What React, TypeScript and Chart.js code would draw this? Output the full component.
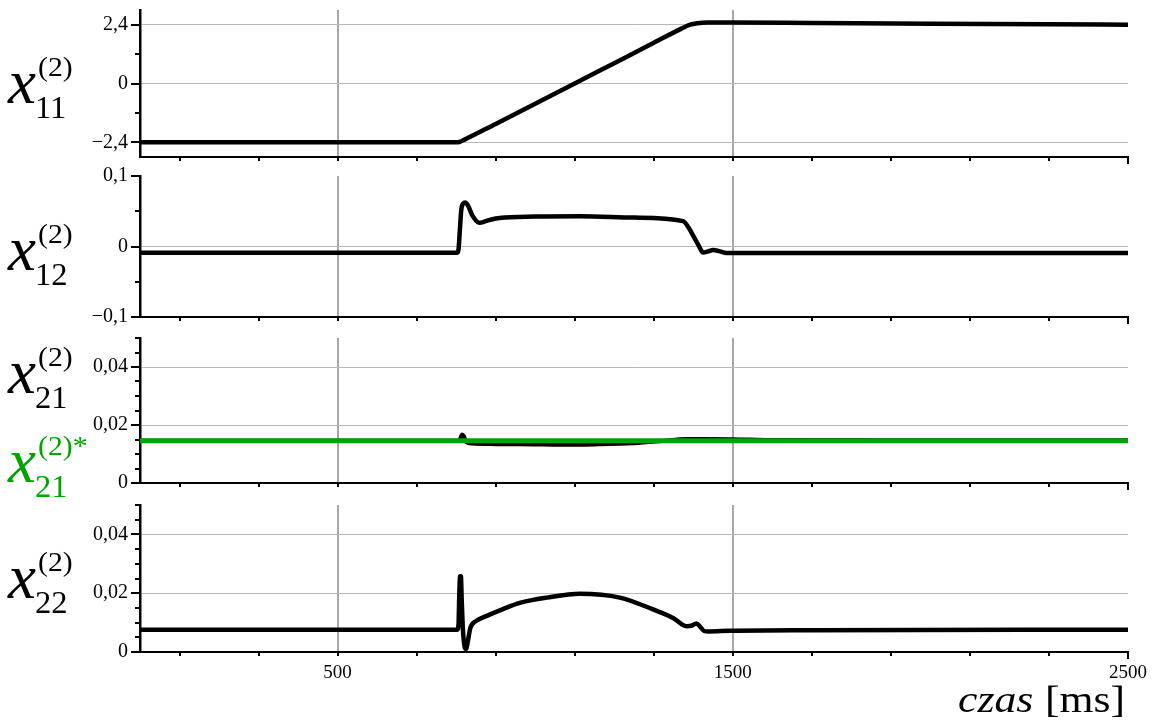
import React, { useEffect, useRef } from 'react';
import { Chart, registerables } from 'chart.js';

Chart.register(...registerables);

const FONT = "'Liberation Serif', 'Times New Roman', Times, serif";
const BLACK = '#000000';
const GREEN = '#00a300';
const GRID_H = '#b8b8b8';
const GRID_V = '#a8a8a8';

// ---- x axis (time, ms) ----
const X_MIN = 0;
const X_MAX = 2500;
const X_TICKS = [100, 300, 500, 700, 900, 1100, 1300, 1500, 1700, 1900, 2100, 2300, 2500];
const X_LABELED = [500, 1500, 2500];
const X_GRID = [500, 1500];

// ---- panel 1: x11 ----
const T11 = [0, 800, 808, 820, 900, 1000, 1100, 1200, 1300, 1370, 1392, 1410, 1435, 1500, 1700, 2000, 2300, 2500];
const V11 = [-2.4, -2.4, -2.39, -2.3, -1.65, -0.83, 0.0, 0.83, 1.66, 2.24, 2.4, 2.46, 2.49, 2.49, 2.47, 2.44, 2.42, 2.4];
const Y11_TICKS = [-2.4, -1.2, 0, 1.2, 2.4];
const Y11_LABELED = [-2.4, 0, 2.4];
const Y11_GRID = [-2.4, 0, 2.4];

// ---- panel 2: x12 ----
const T12 = [0, 803, 806, 809, 813, 818, 823, 830, 842, 859, 875, 889, 910, 1000, 1113, 1250, 1374, 1388, 1400, 1413, 1425, 1437, 1450, 1465, 1484, 2000, 2500];
const V12 = [-0.0088, -0.0088, -0.004, 0.02, 0.052, 0.061, 0.0625, 0.058, 0.043, 0.0336, 0.036, 0.0383, 0.0405, 0.0425, 0.043, 0.041, 0.036, 0.027, 0.015, 0.002, -0.0085, -0.007, -0.005, -0.0065, -0.0092, -0.0092, -0.0092];
const Y12_TICKS = [-0.1, -0.05, 0, 0.05, 0.1];
const Y12_LABELED = [-0.1, 0, 0.1];
const Y12_GRID = [0];

// ---- panel 3: x21 and reference x21* ----
const T21 = [0, 805, 810, 815, 820, 826, 840, 900, 1000, 1050, 1150, 1250, 1320, 1365, 1385, 1420, 1500, 1600, 2000, 2500];
const V21 = [0.0146, 0.0146, 0.0152, 0.0167, 0.016, 0.014, 0.0136, 0.0134, 0.0133, 0.0132, 0.0133, 0.0137, 0.0145, 0.0151, 0.0152, 0.0152, 0.0151, 0.0148, 0.0147, 0.0147];
const T21_REF = [0, 2500];
const V21_REF = [0.0146, 0.0146];
const Y21_TICKS = [0, 0.005, 0.01, 0.015, 0.02, 0.025, 0.03, 0.035, 0.04, 0.045, 0.05];
const Y21_LABELED = [0, 0.02, 0.04];
const Y21_GRID = [0.02, 0.04];

// ---- panel 4: x22 ----
const T22 = [0, 803, 806, 808, 810, 812, 814, 817, 821, 825, 830, 836, 850, 876, 920, 961, 1030, 1113, 1214, 1298, 1350, 1383, 1395, 1408, 1418, 1428, 1440, 1492, 1700, 2500];
const V22 = [0.0076, 0.0076, 0.0095, 0.02, 0.0258, 0.0258, 0.018, 0.008, 0.002, 0.001, 0.004, 0.0082, 0.0105, 0.0122, 0.0147, 0.0167, 0.0185, 0.0198, 0.0185, 0.0145, 0.0115, 0.0088, 0.0089, 0.0097, 0.0085, 0.0071, 0.007, 0.0072, 0.0074, 0.0076];
const Y22_TICKS = [0, 0.005, 0.01, 0.015, 0.02, 0.025, 0.03, 0.035, 0.04, 0.045, 0.05];
const Y22_LABELED = [0, 0.02, 0.04];
const Y22_GRID = [0.02, 0.04];

const PAD_TOP = 12;

type Series = { t: number[]; v: number[]; color: string; width: number };
type MathLabel = { base: number; color: string; sup: string; sub: string };
type Panel = {
  top: number; bottom: number; xAxisH: number;
  yMin: number; yMax: number;
  yTicks: number[]; yLabeled: number[]; yGrid: number[];
  series: Series[]; labels: MathLabel[]; showX: boolean;
};

const PANELS: Panel[] = [
  { top: 10, bottom: 157, xAxisH: 14, yMin: -3, yMax: 3, yTicks: Y11_TICKS, yLabeled: Y11_LABELED, yGrid: Y11_GRID,
    series: [{ t: T11, v: V11, color: BLACK, width: 4.5 }], labels: [{ base: 103, color: BLACK, sup: '(2)', sub: '11' }], showX: false },
  { top: 176, bottom: 317, xAxisH: 14, yMin: -0.1, yMax: 0.1, yTicks: Y12_TICKS, yLabeled: Y12_LABELED, yGrid: Y12_GRID,
    series: [{ t: T12, v: V12, color: BLACK, width: 4.5 }], labels: [{ base: 270, color: BLACK, sup: '(2)', sub: '12' }], showX: false },
  { top: 338, bottom: 483, xAxisH: 22, yMin: 0, yMax: 0.05, yTicks: Y21_TICKS, yLabeled: Y21_LABELED, yGrid: Y21_GRID,
    series: [{ t: T21_REF, v: V21_REF, color: GREEN, width: 5 }, { t: T21, v: V21, color: BLACK, width: 4 }],
    labels: [{ base: 393, color: BLACK, sup: '(2)', sub: '21' }, { base: 482, color: GREEN, sup: '(2)*', sub: '21' }], showX: false },
  { top: 505, bottom: 652, xAxisH: 72, yMin: 0, yMax: 0.05, yTicks: Y22_TICKS, yLabeled: Y22_LABELED, yGrid: Y22_GRID,
    series: [{ t: T22, v: V22, color: BLACK, width: 4.5 }], labels: [{ base: 598, color: BLACK, sup: '(2)', sub: '22' }], showX: true },
];

function fmt(v: number): string {
  const s = String(Math.abs(v)).replace('.', ',');
  return v < 0 ? '\u2212' + s : s;
}

function drawText(ctx: CanvasRenderingContext2D, text: string, x: number, y: number, font: string, color: string, sx = 1) {
  ctx.save();
  ctx.translate(x, y);
  ctx.scale(sx, 1);
  ctx.font = font;
  ctx.fillStyle = color;
  ctx.textAlign = 'left';
  ctx.textBaseline = 'alphabetic';
  ctx.fillText(text, 0, 0);
  ctx.restore();
}

function makePlugin(p: Panel, canvasTop: number) {
  return {
    id: 'decor',
    afterDraw(chart: any) {
      const ctx: CanvasRenderingContext2D = chart.ctx;
      const xs = chart.scales.x;
      const ys = chart.scales.y;
      const ca = chart.chartArea;
      ctx.save();
      ctx.strokeStyle = BLACK;
      ctx.lineWidth = 2;
      ctx.beginPath();
      for (const v of p.yTicks) {
        const y = Math.round(ys.getPixelForValue(v));
        const len = p.yLabeled.includes(v) ? 9 : 5;
        ctx.moveTo(ca.left - len, y);
        ctx.lineTo(ca.left, y);
      }
      for (const v of X_TICKS) {
        const x = Math.round(xs.getPixelForValue(v));
        const len = v === X_MAX ? 7 : 4;
        ctx.moveTo(x, ca.bottom);
        ctx.lineTo(x, ca.bottom + len);
      }
      ctx.stroke();
      ctx.restore();

      for (const L of p.labels) {
        const b = L.base - canvasTop;
        drawText(ctx, 'x', 8, b, `italic 63px ${FONT}`, L.color);
        drawText(ctx, L.sup, 38, b - 27, `27px ${FONT}`, L.color, 1.1);
        drawText(ctx, L.sub, 35, b + 15, `31px ${FONT}`, L.color, 1.05);
      }
      if (p.showX) {
        const b = 712 - canvasTop;
        drawText(ctx, 'czas', 958, b, `italic 38px ${FONT}`, BLACK, 1.15);
        drawText(ctx, '[ms]', 1045, b, `38px ${FONT}`, BLACK, 1.15);
      }
    },
  };
}

function zeroPad(s: any) {
  s.paddingTop = 0;
  s.paddingBottom = 0;
  s.paddingLeft = 0;
  s.paddingRight = 0;
}

function makeConfig(p: Panel, canvasTop: number): any {
  return {
    type: 'line',
    data: {
      datasets: p.series.map((s) => ({
        data: s.t.map((t, i) => ({ x: t, y: s.v[i] })),
        borderColor: s.color,
        borderWidth: s.width,
        pointRadius: 0,
        fill: false,
        cubicInterpolationMode: 'monotone',
        borderJoinStyle: 'round',
      })),
    },
    options: {
      animation: false,
      responsive: false,
      maintainAspectRatio: false,
      events: [],
      layout: { padding: { top: PAD_TOP, right: 30, bottom: 0, left: 0 } },
      plugins: { legend: { display: false }, tooltip: { enabled: false }, title: { display: false } },
      scales: {
        x: {
          type: 'linear',
          min: X_MIN,
          max: X_MAX,
          afterBuildTicks: (s: any) => { s.ticks = X_TICKS.map((v) => ({ value: v })); },
          afterFit: (s: any) => { s.height = p.xAxisH; zeroPad(s); },
          grid: {
            drawTicks: false,
            color: (c: any) => (c.tick && X_GRID.includes(c.tick.value) ? GRID_V : 'rgba(0,0,0,0)'),
            lineWidth: (c: any) => (c.tick && X_GRID.includes(c.tick.value) ? 2 : 1),
          },
          border: { display: true, color: BLACK, width: 2 },
          ticks: {
            autoSkip: false,
            maxRotation: 0,
            minRotation: 0,
            padding: 10,
            color: BLACK,
            font: { family: FONT, size: 19 },
            callback: (v: number) => (p.showX && X_LABELED.includes(v) ? String(v) : ''),
          },
        },
        y: {
          type: 'linear',
          min: p.yMin,
          max: p.yMax,
          afterBuildTicks: (s: any) => { s.ticks = p.yTicks.map((v) => ({ value: v })); },
          afterFit: (s: any) => { s.width = 140; zeroPad(s); },
          grid: {
            drawTicks: false,
            color: (c: any) => (c.tick && p.yGrid.includes(c.tick.value) ? GRID_H : 'rgba(0,0,0,0)'),
            lineWidth: 1,
          },
          border: { display: true, color: BLACK, width: 2.5 },
          ticks: {
            autoSkip: false,
            padding: 12,
            color: BLACK,
            font: { family: FONT, size: 20 },
            callback: (v: number) => (p.yLabeled.includes(v) ? fmt(v) : ''),
          },
        },
      },
    },
    plugins: [makePlugin(p, canvasTop)],
  };
}

export default function App() {
  const refs = useRef<(HTMLCanvasElement | null)[]>([]);
  useEffect(() => {
    const charts = PANELS.map((p, i) => {
      const top = p.top - PAD_TOP;
      return new Chart(refs.current[i] as HTMLCanvasElement, makeConfig(p, top));
    });
    return () => charts.forEach((c) => c.destroy());
  }, []);
  return (
    <div style={{ position: 'absolute', left: 0, top: 0, width: 1158, height: 724, background: '#fff', overflow: 'hidden' }}>
      {PANELS.map((p, i) => {
        const top = p.top - PAD_TOP;
        const h = PAD_TOP + (p.bottom - p.top) + p.xAxisH;
        return (
          <canvas
            key={i}
            ref={(el) => { refs.current[i] = el; }}
            width={1158}
            height={h}
            style={{ position: 'absolute', left: 0, top, width: 1158, height: h }}
          />
        );
      })}
    </div>
  );
}
